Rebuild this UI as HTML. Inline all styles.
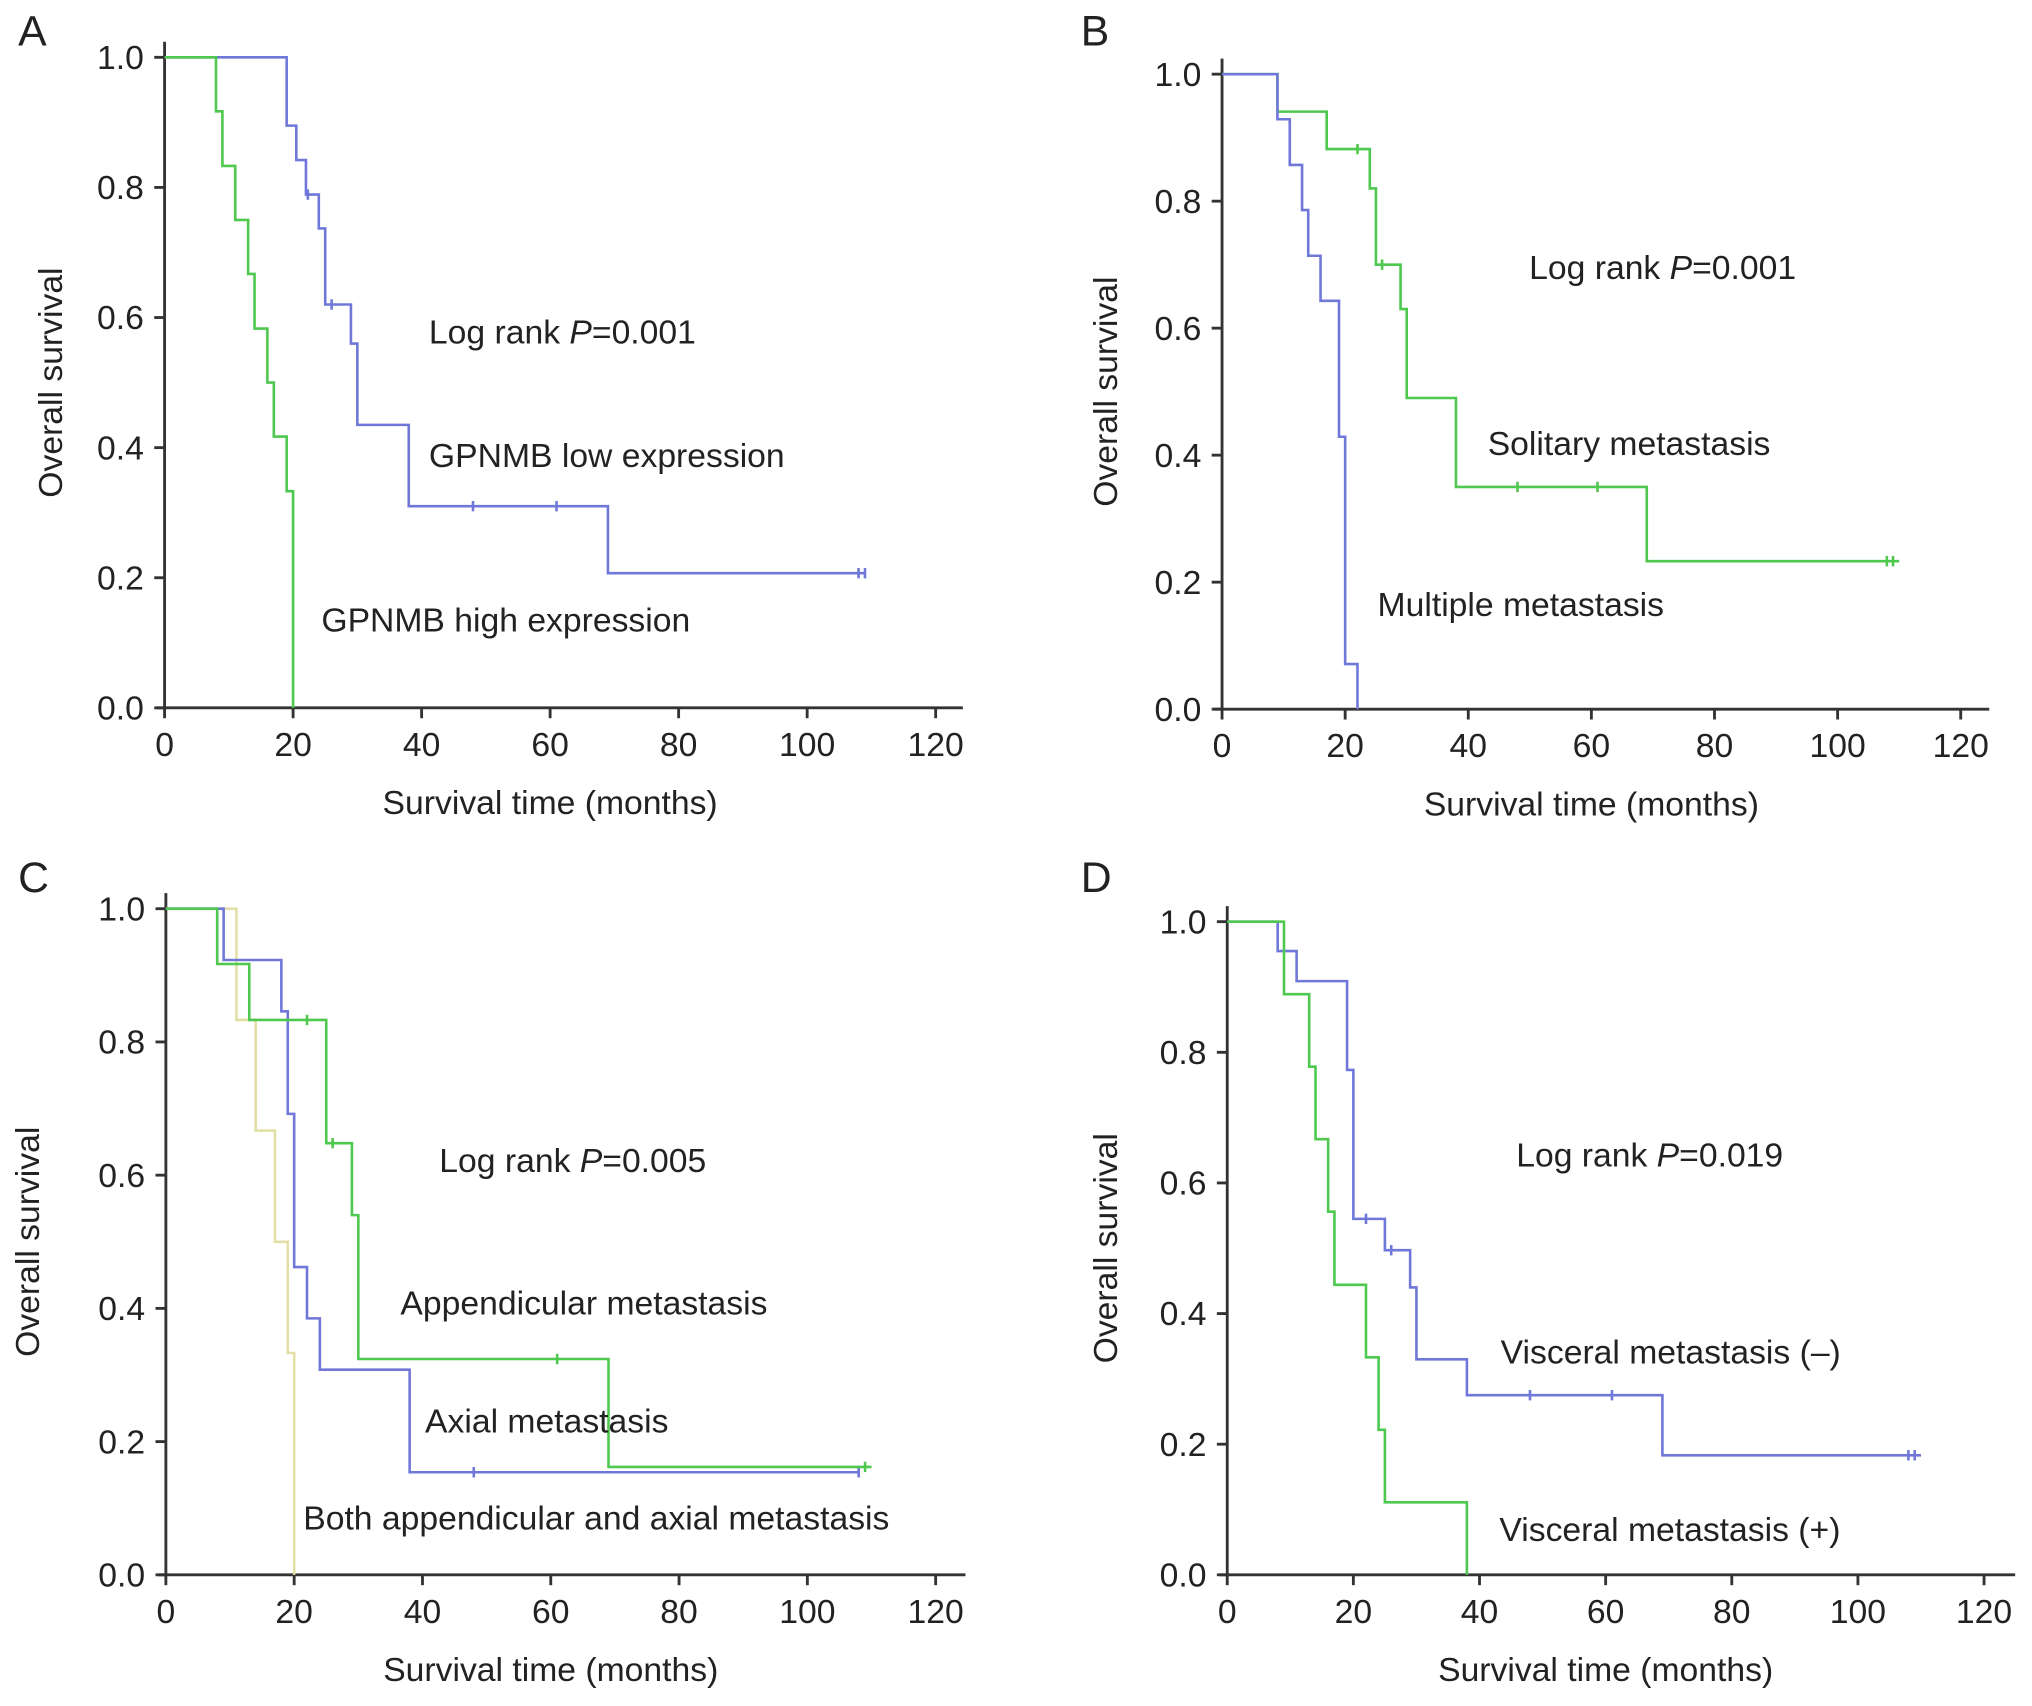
<!DOCTYPE html>
<html><head><meta charset="utf-8"><style>
html,body{margin:0;padding:0;background:#fff}
svg{display:block;font-family:"Liberation Sans",Arial,sans-serif}
</style></head><body>
<svg id="fig" width="2032" height="1706" viewBox="0 0 1568 1316" xmlns="http://www.w3.org/2000/svg"></svg>
<script>
const xTicks=[0,20,40,60,80,100,120];
const yTicks=[0,0.2,0.4,0.6,0.8,1.0];
const yTickLabels=["0.0","0.2","0.4","0.6","0.8","1.0"];
// Panel A
const aLowT=[19,20.5,22,24,25,29,30,38,69], aLowS=[0.895,0.842,0.789,0.737,0.62,0.56,0.435,0.31,0.207], aLowEnd=109, aLowC=[22.3,26,48,61,108,109];
const aHighT=[8,9,11,13,14,16,17,19,20], aHighS=[0.917,0.833,0.75,0.667,0.583,0.5,0.417,0.333,0], aHighEnd=20, aHighC=[];
// Panel B
const bSolT=[9,17,24,25,29,30,38,69], bSolS=[0.941,0.882,0.82,0.70,0.63,0.49,0.35,0.233], bSolEnd=110, bSolC=[22,26,48,61,108,109];
const bMulT=[9,11,13,14,16,19,20,22], bMulS=[0.929,0.857,0.786,0.714,0.643,0.429,0.071,0], bMulEnd=22, bMulC=[];
// Panel C
const cBothT=[11,14,17,19,20], cBothS=[0.833,0.667,0.5,0.333,0], cBothEnd=20, cBothC=[];
const cAppT=[8,13,25,29,30,69], cAppS=[0.917,0.833,0.648,0.54,0.324,0.162], cAppEnd=110, cAppC=[22,26,61,109];
const cAxT=[9,18,19,20,22,24,38], cAxS=[0.923,0.846,0.692,0.462,0.385,0.308,0.154], cAxEnd=108, cAxC=[48,108];
// Panel D
const dNegT=[8,11,19,20,25,29,30,38,69], dNegS=[0.955,0.909,0.773,0.545,0.497,0.44,0.33,0.275,0.183], dNegEnd=110, dNegC=[22,26,48,61,108,109];
const dPosT=[9,13,14,16,17,22,24,25,38], dPosS=[0.889,0.778,0.667,0.556,0.444,0.333,0.222,0.111,0], dPosEnd=38, dPosC=[];

const BLUE="#6f78d8", GREEN="#4ec84e", YEL="#e2dfa6";
const NS="http://www.w3.org/2000/svg";
const svg=document.getElementById('fig');
function mk(tag,attrs,parent){const e=document.createElementNS(NS,tag);for(const k in attrs)e.setAttribute(k,attrs[k]);(parent||svg).appendChild(e);return e;}
function txt(str,x,y,size,anchor,parent,name,extra){const t=mk('text',Object.assign({x:x,y:y,'font-size':size,'text-anchor':anchor||'start',fill:'#222'},extra||{}),parent);t.textContent=str;


return t;}

function panel(p){
  const g=mk('g',{});
  
  
  const X=v=>p.x0+(p.x1-p.x0)*v/120, Y=v=>p.y0+(p.y1-p.y0)*v;
  txt(p.id,p.lx,p.ly,33,'start',g,'panel-letter');
  const ya=mk('line',{x1:p.x0,y1:p.y1-12,x2:p.x0,y2:p.y0,stroke:'#333','stroke-width':2.2},g);
  
  
  const xa=mk('line',{x1:p.x0-6,y1:p.y0,x2:p.xe,y2:p.y0,stroke:'#333','stroke-width':2.2},g);
  
  
  yTicks.forEach((v,i)=>{
    mk('line',{x1:p.x0-8,y1:Y(v),x2:p.x0,y2:Y(v),stroke:'#333','stroke-width':2.2},g);
    txt(yTickLabels[i],p.x0-16,Y(v)+9,26,'end',g,'y-tick-label');
  });
  xTicks.forEach(v=>{
    mk('line',{x1:X(v),y1:p.y0,x2:X(v),y2:p.y0+8,stroke:'#333','stroke-width':2.2},g);
    txt(String(v),X(v),p.y0+37,26,'middle',g,'x-tick-label');
  });
  txt('Survival time (months)',(p.x0+p.x1)/2,p.y0+82,26,'middle',g,'x-axis-title');
  const yt=txt('Overall survival',0,0,26,'middle',g,'y-axis-title');
  yt.setAttribute('transform','translate('+p.ytx+','+((p.y0+p.y1)/2)+') rotate(-90)');
  p.series.forEach(s=>{
    let d='M'+X(0)+','+Y(1);
    let prev=1;
    s.t.forEach((t,i)=>{d+=' L'+X(t)+','+Y(prev)+' L'+X(t)+','+Y(s.s[i]);prev=s.s[i];});
    if(prev>0) d+=' L'+X(s.end)+','+Y(prev);
    const path=mk('path',{d:d,fill:'none',stroke:s.c,'stroke-width':2},g);
    
    
    s.cen.forEach(ct=>{
      let v=1;s.t.forEach((t,i)=>{if(t<=ct)v=s.s[i];});
      const m=mk('line',{x1:X(ct),y1:Y(v)-4,x2:X(ct),y2:Y(v)+4,stroke:s.c,'stroke-width':2},g);
      
      
    });
  });
  p.labels.forEach(l=>{
    const t=txt(l[0],l[1],l[2],26,'start',g,l[3]);
    if(l[4]){t.textContent='';const a=mk('tspan',{},t);a.textContent='Log rank ';const b=mk('tspan',{'font-style':'italic'},t);b.textContent='P';const c=mk('tspan',{},t);c.textContent=l[4];}
  });
}
panel({id:'A',lx:14,ly:35,x0:127,x1:722,xe:743,y0:546,y1:44,ytx:48,
 series:[{t:aLowT,s:aLowS,end:aLowEnd,cen:aLowC,c:BLUE,name:'gpnmb-low-curve'},{t:aHighT,s:aHighS,end:aHighEnd,cen:aHighC,c:GREEN,name:'gpnmb-high-curve'}],
 labels:[['',331,265,'log-rank-label','=0.001'],['GPNMB low expression',331,360,'gpnmb-low-label'],['GPNMB high expression',248,487,'gpnmb-high-label']]});
panel({id:'B',lx:834,ly:35,x0:943,x1:1513,xe:1535,y0:547,y1:57,ytx:862,
 series:[{t:bSolT,s:bSolS,end:bSolEnd,cen:bSolC,c:GREEN,name:'solitary-curve'},{t:bMulT,s:bMulS,end:bMulEnd,cen:bMulC,c:BLUE,name:'multiple-curve'}],
 labels:[['',1180,215,'log-rank-label','=0.001'],['Solitary metastasis',1148,351,'solitary-label'],['Multiple metastasis',1063,475,'multiple-label']]});
panel({id:'C',lx:14,ly:688,x0:128,x1:722,xe:745,y0:1215,y1:701,ytx:30,
 series:[{t:cBothT,s:cBothS,end:cBothEnd,cen:cBothC,c:YEL,name:'both-curve'},{t:cAxT,s:cAxS,end:cAxEnd,cen:cAxC,c:BLUE,name:'axial-curve'},{t:cAppT,s:cAppS,end:cAppEnd,cen:cAppC,c:GREEN,name:'appendicular-curve'}],
 labels:[['',339,904,'log-rank-label','=0.005'],['Appendicular metastasis',309,1014,'appendicular-label'],['Axial metastasis',328,1105,'axial-label'],['Both appendicular and axial metastasis',234,1180,'both-label']]});
panel({id:'D',lx:834,ly:688,x0:947,x1:1531,xe:1555,y0:1215,y1:711,ytx:862,
 series:[{t:dNegT,s:dNegS,end:dNegEnd,cen:dNegC,c:BLUE,name:'visceral-negative-curve'},{t:dPosT,s:dPosS,end:dPosEnd,cen:dPosC,c:GREEN,name:'visceral-positive-curve'}],
 labels:[['',1170,900,'log-rank-label','=0.019'],['Visceral metastasis (\u2013)',1158,1052,'visceral-negative-label'],['Visceral metastasis (+)',1157,1189,'visceral-positive-label']]});
</script>
</body></html>
